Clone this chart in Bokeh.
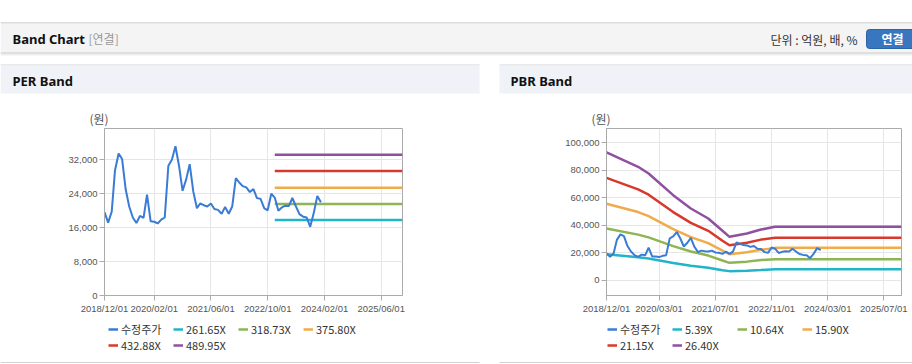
from datetime import datetime
import pandas as pd
from bokeh.plotting import figure
from bokeh.models import (Range1d, FixedTicker, NumeralTickFormatter, Legend,
                          LegendItem, Label)
from bokeh.layouts import column, row
from bokeh.embed import file_html
from bokeh.resources import INLINE

# ---------------- data ----------------
price_dates = pd.date_range("2018-12-01", periods=62, freq="MS")
price = [19700, 17200, 19800, 29500, 33500, 32200, 25000, 21000, 18400, 17100,
         18800, 18300, 23800, 17500, 17400, 17000, 17900, 18400, 30600, 32000,
         35200, 30500, 24700, 27400, 31000, 24500, 20600, 21700, 21300, 21000,
         21700, 20400, 20200, 19300, 20900, 19300, 21000, 27700, 26600, 25800,
         25500, 24400, 25100, 23000, 22800, 20600, 20100, 24000, 23100, 20000,
         20800, 21200, 21100, 23000, 21000, 19200, 18600, 18400, 16200, 19500,
         23500, 22000]

per_labels = ["261.65X", "318.73X", "375.80X", "432.88X", "489.95X"]
per_band_dates = ["2022-12-01", "2025-12-01"]
per_b1 = [17800, 17800]
per_b2 = [21600, 21600]
per_b3 = [25400, 25400]
per_b4 = [29400, 29400]
per_b5 = [33200, 33200]

pbr_labels = ["5.39X", "10.64X", "15.90X", "21.15X", "26.40X"]
pbr_band_dates = ["2018-12-01", "2019-09-01", "2019-12-01", "2020-07-01",
                  "2020-12-01", "2021-05-01", "2021-09-01", "2021-11-01",
                  "2022-04-01", "2022-08-01", "2022-12-01", "2025-12-01"]
pbr_b1 = [19100, 16900, 15900, 12700, 10700, 9200, 7400, 6800, 7100, 7600, 8200, 8200]
pbr_b2 = [37800, 33300, 31300, 25000, 21100, 18100, 14500, 12800, 13700, 14900, 15500, 15500]
pbr_b3 = [55700, 49700, 46800, 37300, 31500, 27100, 21700, 19100, 20500, 22300, 23700, 23700]
pbr_b4 = [74500, 66200, 62300, 49700, 41900, 36100, 28900, 25600, 27400, 29700, 31000, 31000]
pbr_b5 = [93000, 82600, 77700, 62000, 52300, 45000, 36100, 31700, 34100, 37000, 39000, 39000]

per_xticks = ["2018-12-01", "2020-02-01", "2021-06-01", "2022-10-01", "2024-02-01", "2025-06-01"]
per_xtick_labels = ["2018/12/01", "2020/02/01", "2021/06/01", "2022/10/01", "2024/02/01", "2025/06/01"]
per_yticks = [0, 8000, 16000, 24000, 32000]
pbr_xticks = ["2018-12-01", "2020-03-01", "2021-07-01", "2022-11-01", "2024-03-01", "2025-07-01"]
pbr_xtick_labels = ["2018/12/01", "2020/03/01", "2021/07/01", "2022/11/01", "2024/03/01", "2025/07/01"]
pbr_yticks = [0, 20000, 40000, 60000, 80000, 100000]

price_label = "수정주가"
unit_label = "(원)"
colors = ["#3a7bd5", "#22b4c8", "#8db553", "#f0ab4a", "#d8392d", "#9050a0"]

KR = "Noto Sans CJK KR"
TICK_FONT = "Liberation Sans"


def ms(s):
    return int(pd.Timestamp(s).value // 10**6)


def plain(width, height, x0, x1, y0, y1):
    """Decoration strip in page-pixel coordinates (y downward)."""
    f = figure(width=width, height=height, x_range=Range1d(x0, x1),
               y_range=Range1d(y1, y0), x_axis_type=None, y_axis_type=None,
               toolbar_location=None, output_backend="svg", min_border=0)
    f.outline_line_color = None
    f.background_fill_color = "#ffffff"
    f.border_fill_color = "#ffffff"
    f.grid.visible = False
    return f


def box(f, l, r, t, b, c):
    f.quad(left=l, right=r, top=t, bottom=b, fill_color=c, line_color=None)


def lab(f, x, y, t, font, size, color, bold=False, align="left"):
    f.add_layout(Label(x=x, y=y, text=t, text_font=font, text_font_size=size,
                       text_color=color, text_baseline="middle", text_align=align,
                       text_font_style="bold" if bold else "normal"))


def chart(width, ml, mr, ymin, ymax, xticks, xlabels, yticks, bands, band_dates):
    # chart (page y 127..318), frame 128..295
    p = figure(width=width, height=191, x_axis_type="datetime",
               x_range=Range1d(datetime(2018, 12, 1), datetime(2025, 12, 1)),
               y_range=Range1d(ymin, ymax), output_backend="svg",
               toolbar_location=None, min_border_left=ml, min_border_right=mr,
               min_border_top=1, min_border_bottom=23)
    p.background_fill_color = "#ffffff"
    p.border_fill_color = "#ffffff"
    p.outline_line_color = "#aaaaaa"
    xt = [ms(s) for s in xticks]
    p.xaxis.ticker = FixedTicker(ticks=xt)
    p.xaxis.major_label_overrides = {t: l for t, l in zip(xt, xlabels)}
    p.yaxis.ticker = FixedTicker(ticks=yticks)
    p.yaxis.formatter = NumeralTickFormatter(format="0,0")
    for ax in (p.xaxis, p.yaxis):
        ax.axis_line_color = "#aaaaaa"
        ax.major_tick_line_color = "#aaaaaa"
        ax.major_tick_out = 5
        ax.major_tick_in = 0
        ax.minor_tick_line_color = None
        ax.major_label_text_font = TICK_FONT
        ax.major_label_text_font_size = "9.5px"
        ax.major_label_text_color = "#555555"
        ax.major_label_standoff = 2
    p.xgrid.ticker = FixedTicker(ticks=xt)
    p.ygrid.ticker = FixedTicker(ticks=yticks)
    p.grid.grid_line_color = "#e6e6e6"

    bd = pd.to_datetime(band_dates)
    for i, vals in enumerate(bands):
        p.line(bd, vals, line_color=colors[i + 1], line_width=2.5)
    p.line(price_dates, price, line_color=colors[0], line_width=2)
    return p


per = chart(489, 104, 87, 0, 39400, per_xticks, per_xtick_labels, per_yticks,
            [per_b1, per_b2, per_b3, per_b4, per_b5], per_band_dates)
pbr = chart(423, 117, 11, -10900, 110400, pbr_xticks, pbr_xtick_labels,
            pbr_yticks, [pbr_b1, pbr_b2, pbr_b3, pbr_b4, pbr_b5], pbr_band_dates)

# ---------------- header (page y 0..127) ----------------
hdr = plain(912, 127, 0, 912, 0, 127)
box(hdr, 0, 912, 22, 23, "#bababa")
box(hdr, 0, 912, 23, 52, "#f4f4f4")
box(hdr, 0, 912, 52, 53, "#c6c6c6")
box(hdr, 0, 912, 53, 54, "#dddddd")
box(hdr, 0, 912, 54, 55, "#eeeeee")
for l, r in ((0, 479), (499, 912)):
    box(hdr, l, r, 64, 65, "#d6d6d6")
    box(hdr, l, r, 65, 93, "#eff2f7")
hdr.quad(left=866, right=918, top=29, bottom=48, fill_color="#3876c0",
         line_color="#2c63a6", border_radius=3)

lab(hdr, 12, 38, "Band Chart", "Noto Sans", "13px", "#111111", bold=True)
lab(hdr, 88, 38, "[연결]", KR, "12px", "#999999")
lab(hdr, 770, 39, "단위 : 억원, 배, %", KR, "12px", "#333333")
lab(hdr, 892, 38, "연결", KR, "12px", "#ffffff", bold=True, align="center")
lab(hdr, 12, 80, "PER Band", "Noto Sans", "13px", "#111111", bold=True)
lab(hdr, 510, 80, "PBR Band", "Noto Sans", "13px", "#111111", bold=True)
lab(hdr, 89, 118, unit_label, KR, "12px", "#555555")
lab(hdr, 591, 118, unit_label, KR, "12px", "#555555")

# ---------------- footer: legends + panel bottom borders (page y 318..364) ----
ftr = plain(912, 46, 0, 912, 318, 364)
box(ftr, 0, 479, 361.5, 362.5, "#d2d2d2")
box(ftr, 499, 912, 361.5, 362.5, "#d2d2d2")
# legend keys: single-point lines (draw nothing, only provide the swatch style)
keys = [ftr.line([-100], [-100], line_color=c, line_width=2.5) for c in colors]
for labels, lx in (([price_label] + per_labels, 108), ([price_label] + pbr_labels, 607)):
    items = [LegendItem(label=l, renderers=[r]) for l, r in zip(labels, keys)]
    for its, vy in ((items[:4], 27), (items[4:], 11)):
        ftr.add_layout(Legend(items=its, orientation="horizontal",
                              location=(lx, vy), glyph_width=10,
                              glyph_height=14, label_width=52, label_height=14,
                              label_standoff=3, spacing=0, padding=0, margin=0,
                              background_fill_alpha=0, border_line_alpha=0,
                              label_text_font=KR, label_text_font_size="11px",
                              label_text_color="#333333"))

layout = column(hdr, row(per, pbr), ftr)
open("out.html", "w").write(file_html(layout, INLINE))
